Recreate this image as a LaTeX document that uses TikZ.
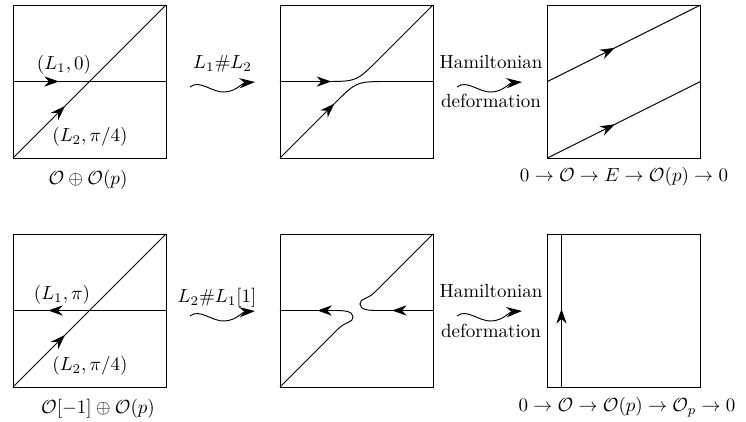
\documentclass[tikz,border=0pt]{standalone}
\usetikzlibrary{arrows.meta,decorations.markings,calc}
\begin{document}
\begin{tikzpicture}[x=0.0185cm,y=-0.0185cm]
\tikzset{
    fsSquare/.style={rectangle,draw=black,line width=0.5pt,minimum size=2.83cm,outer sep=0pt,inner sep=0pt},
    fsFlow/.style={line width=0.5pt,postaction={decorate},decoration={markings,mark=at position #1 with {\arrow{Stealth[length=2.7mm,width=1.9mm]}}}},
    fsWave/.style={line width=0.5pt,-{Stealth[length=2.9mm,width=1.9mm]}},
}
\useasboundingbox (0,0) rectangle (746,422);

% top row
\node[fsSquare] (a1) at (89.5,81.5) {};
\node[fsSquare] (b1) at (356.5,81.5) {};
\node[fsSquare] (c1) at (624,81.5) {};
\draw[fsFlow=0.3] (a1.west) -- (a1.east);
\draw[fsFlow=0.34] (a1.south west) -- (a1.north east);
\draw[fsFlow=0.28] (b1.west) -- (325,81.5) .. controls (356.5,81.5) .. (378.5,59.5) -- (b1.north east);
\draw[fsFlow=0.42] (b1.south west) -- (334.5,103.5) .. controls (356.5,81.5) .. (388,81.5) -- (b1.east);
\draw[fsFlow=0.44] (c1.west) -- (c1.north east);
\draw[fsFlow=0.44] (c1.south west) -- (c1.east);

\node (l1a) at (64,65) {$(L_1,0)$};
\node (l2a) at (90,137) {$(L_2,\pi/4)$};
\node (suma) at (88,180) {$\mathcal{O}\oplus\mathcal{O}(p)$};
\node (sha) at (222.5,64) {$L_1\#L_2$};
\node (ham1) at (491,62) {Hamiltonian};
\node (def1) at (491,101) {deformation};
\node (exa) at (624,177) {$0\to\mathcal{O}\to E\to\mathcal{O}(p)\to 0$};

\coordinate (w1s) at (190,87);
\coordinate (w1e) at (255,82);
\draw[fsWave] (w1s) .. controls (200,79) and (212,93) .. (225,92) .. controls (237,91) and (242,83) .. (w1e);
\coordinate (h1s) at (457,87);
\coordinate (h1e) at (522,82);
\draw[fsWave] (h1s) .. controls (467,79) and (479,93) .. (492,92) .. controls (504,91) and (509,83) .. (h1e);

% bottom row
\node[fsSquare] (a2) at (89.5,310.5) {};
\node[fsSquare] (b2) at (356.5,310.5) {};
\node[fsSquare] (c2) at (624,310.5) {};
\draw[fsFlow=0.77] (a2.east) -- (a2.west);
\draw[fsFlow=0.34] (a2.south west) -- (a2.north east);
\draw[fsFlow=0.79] (b2.south west) -- (338,329) .. controls (346,321) and (353,323) .. (353,317)
    .. controls (353,311) and (344,310.5) .. (335,310.5) -- (b2.west);
\draw[fsFlow=0.23] (b2.east) -- (378,310.5) .. controls (369,310.5) and (360,310) .. (360,304)
    .. controls (360,298) and (367,300) .. (375,292) -- (b2.north east);
\draw[fsFlow=0.51] ($(c2.south west)+(14,0)$) -- ($(c2.north west)+(14,0)$);

\node (l1b) at (62,295) {$(L_1,\pi)$};
\node (l2b) at (90,366) {$(L_2,\pi/4)$};
\node (sumb) at (98,409) {$\mathcal{O}[-1]\oplus\mathcal{O}(p)$};
\node (shb) at (217,298) {$L_2\#L_1[1]$};
\node (ham2) at (491,291) {Hamiltonian};
\node (def2) at (491,331) {deformation};
\node (exb) at (627,407) {$0\to\mathcal{O}\to\mathcal{O}(p)\to\mathcal{O}_p\to 0$};

\coordinate (w2s) at (190,316);
\coordinate (w2e) at (255,311);
\draw[fsWave] (w2s) .. controls (200,308) and (212,322) .. (225,321) .. controls (237,320) and (242,312) .. (w2e);
\coordinate (h2s) at (457,316);
\coordinate (h2e) at (522,311);
\draw[fsWave] (h2s) .. controls (467,308) and (479,322) .. (492,321) .. controls (504,320) and (509,312) .. (h2e);
\end{tikzpicture}
\end{document}
